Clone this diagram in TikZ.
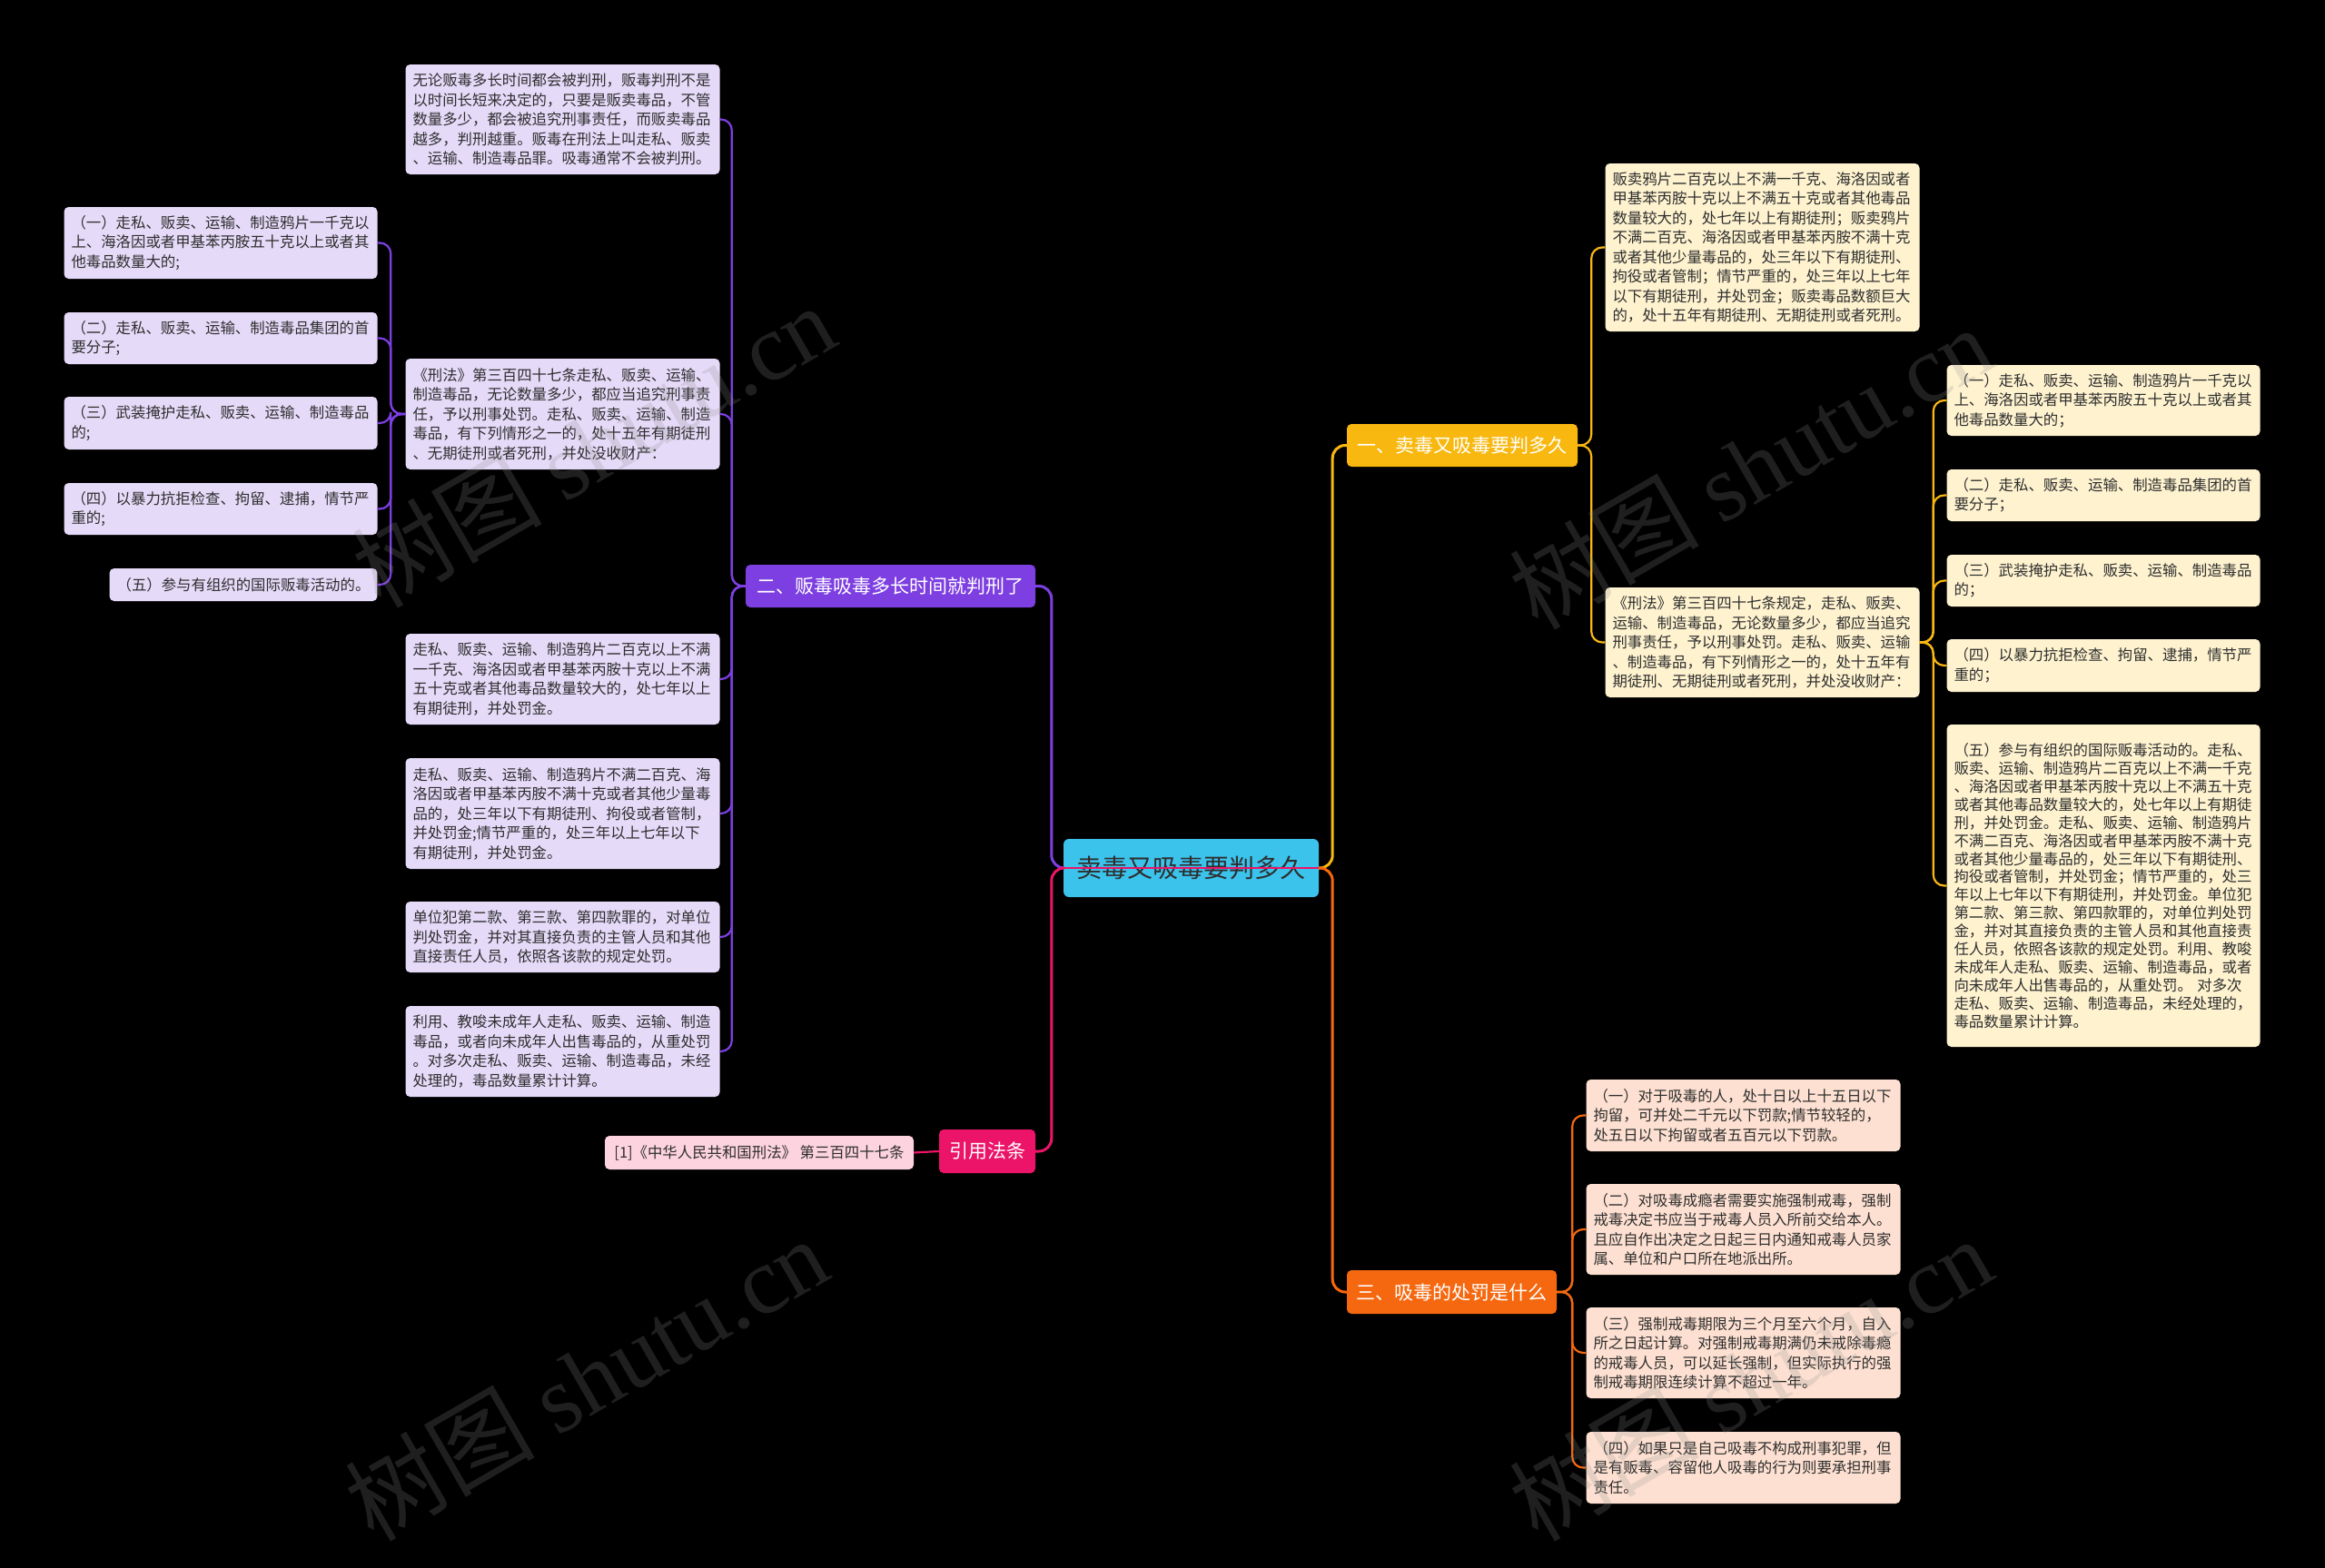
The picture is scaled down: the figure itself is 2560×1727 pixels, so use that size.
\documentclass[tikz,border=0pt]{standalone}
\usepackage{fontspec}
\setmainfont{Noto Sans CJK SC}
\newfontfamily\wmlatin{Liberation Serif}
\definecolor{cA}{HTML}{F8B810}
\definecolor{cAl}{HTML}{FEF2CF}
\definecolor{cB}{HTML}{7D3FE1}
\definecolor{cBl}{HTML}{E5DAF8}
\definecolor{cC}{HTML}{F5680F}
\definecolor{cCl}{HTML}{FDE0D1}
\definecolor{cD}{HTML}{EC1468}
\definecolor{cDl}{HTML}{FCD3DF}
\definecolor{cCenter}{HTML}{3BC3EC}
\definecolor{txt}{HTML}{2E2E2E}
\definecolor{wmgray}{HTML}{909090}
\begin{document}
\begin{tikzpicture}[x=1pt,y=-1pt,
  leaf/.style={rectangle, rounded corners=5pt, inner xsep=8pt, inner ysep=0pt,
    align=left, text=txt, font=\fontsize{16.4}{21.5}\selectfont},
  leafA/.style={leaf, fill=cAl},
  leafB/.style={leaf, fill=cBl},
  leafC/.style={leaf, fill=cCl},
  leafD/.style={leaf, fill=cDl, align=center},
  branch/.style={rectangle, rounded corners=5pt, inner sep=0pt, text=white,
    font=\fontsize{21}{25}\selectfont},
  conn/.style={line width=2.2pt, rounded corners=12pt},
  mainconn/.style={line width=3pt, rounded corners=14pt},
  wm/.style={text=wmgray, opacity=0.22, font=\fontsize{105}{110}\selectfont, rotate=30}
]
\useasboundingbox (0,0) rectangle (2560,1727);
\fill[black] (0,0) rectangle (2560,1727);

% ---------- center and branches ----------
\node[rectangle, rounded corners=6pt, fill=cCenter, text=txt, minimum width=281, minimum height=64,
  font=\fontsize{28}{32}\selectfont] (center) at (1311.5,956) {卖毒又吸毒要判多久};
\node[branch, fill=cA, minimum width=254, minimum height=47] (b1) at (1610,490.5) {一、卖毒又吸毒要判多久};
\node[branch, fill=cC, minimum width=231, minimum height=48] (b3) at (1598.5,1423) {三、吸毒的处罚是什么};
\node[branch, fill=cB, minimum width=319, minimum height=47] (b2) at (980.5,645.5) {二、贩毒吸毒多长时间就判刑了};
\node[branch, fill=cD, minimum width=106, minimum height=48] (b4) at (1087,1268) {引用法条};
\node[leafD, minimum width=340, minimum height=37] (cite) at (836,1269.5) {[1]《中华人民共和国刑法》 第三百四十七条};

% ---------- branch 二 leaves ----------
\node[leafB, minimum width=345, minimum height=121, text width=330pt] (L1) at (619.5,131.5) {无论贩毒多长时间都会被判刑，贩毒判刑不是\\
以时间长短来决定的，只要是贩卖毒品，不管\\
数量多少，都会被追究刑事责任，而贩卖毒品\\
越多，判刑越重。贩毒在刑法上叫走私、贩卖\\
、运输、制造毒品罪。吸毒通常不会被判刑。};
\node[leafB, minimum width=345, minimum height=122, text width=330pt] (L2) at (619.5,456) {《刑法》第三百四十七条走私、贩卖、运输、\\
制造毒品，无论数量多少，都应当追究刑事责\\
任，予以刑事处罚。走私、贩卖、运输、制造\\
毒品，有下列情形之一的，处十五年有期徒刑\\
、无期徒刑或者死刑，并处没收财产：};
\node[leafB, minimum width=345, minimum height=100, text width=330pt] (L3) at (619.5,748) {走私、贩卖、运输、制造鸦片二百克以上不满\\
一千克、海洛因或者甲基苯丙胺十克以上不满\\
五十克或者其他毒品数量较大的，处七年以上\\
有期徒刑，并处罚金。};
\node[leafB, minimum width=345, minimum height=122, text width=330pt] (L4) at (619.5,896) {走私、贩卖、运输、制造鸦片不满二百克、海\\
洛因或者甲基苯丙胺不满十克或者其他少量毒\\
品的，处三年以下有期徒刑、拘役或者管制，\\
并处罚金;情节严重的，处三年以上七年以下\\
有期徒刑，并处罚金。};
\node[leafB, minimum width=345, minimum height=78, text width=330pt] (L5) at (619.5,1032) {单位犯第二款、第三款、第四款罪的，对单位\\
判处罚金，并对其直接负责的主管人员和其他\\
直接责任人员，依照各该款的规定处罚。};
\node[leafB, minimum width=345, minimum height=100, text width=330pt] (L6) at (619.5,1158) {利用、教唆未成年人走私、贩卖、运输、制造\\
毒品，或者向未成年人出售毒品的，从重处罚\\
。对多次走私、贩卖、运输、制造毒品，未经\\
处理的，毒品数量累计计算。};

\node[leafB, minimum width=344, minimum height=79, text width=329pt] (S1) at (243,267.5) {（一）走私、贩卖、运输、制造鸦片一千克以\\
上、海洛因或者甲基苯丙胺五十克以上或者其\\
他毒品数量大的;};
\node[leafB, minimum width=344, minimum height=57, text width=329pt] (S2) at (243,372.5) {（二）走私、贩卖、运输、制造毒品集团的首\\
要分子;};
\node[leafB, minimum width=344, minimum height=58, text width=329pt] (S3) at (243,466) {（三）武装掩护走私、贩卖、运输、制造毒品\\
的;};
\node[leafB, minimum width=344, minimum height=57, text width=329pt] (S4) at (243,560.5) {（四）以暴力抗拒检查、拘留、逮捕，情节严\\
重的;};
\node[leafB, minimum width=294, minimum height=36, align=center] (S5) at (268,644) {（五）参与有组织的国际贩毒活动的。};

% ---------- branch 一 leaves ----------
\node[leafA, minimum width=345, minimum height=185, text width=330pt] (R1) at (1940.5,272.5) {贩卖鸦片二百克以上不满一千克、海洛因或者\\
甲基苯丙胺十克以上不满五十克或者其他毒品\\
数量较大的，处七年以上有期徒刑；贩卖鸦片\\
不满二百克、海洛因或者甲基苯丙胺不满十克\\
或者其他少量毒品的，处三年以下有期徒刑、\\
拘役或者管制；情节严重的，处三年以上七年\\
以下有期徒刑，并处罚金；贩卖毒品数额巨大\\
的，处十五年有期徒刑、无期徒刑或者死刑。};
\node[leafA, minimum width=345, minimum height=121, text width=330pt] (R2) at (1940.5,707.5) {《刑法》第三百四十七条规定，走私、贩卖、\\
运输、制造毒品，无论数量多少，都应当追究\\
刑事责任，予以刑事处罚。走私、贩卖、运输\\
、制造毒品，有下列情形之一的，处十五年有\\
期徒刑、无期徒刑或者死刑，并处没收财产：};

\node[leafA, minimum width=344, minimum height=78, text width=329pt] (RS1) at (2316,441) {（一）走私、贩卖、运输、制造鸦片一千克以\\
上、海洛因或者甲基苯丙胺五十克以上或者其\\
他毒品数量大的；};
\node[leafA, minimum width=344, minimum height=57, text width=329pt] (RS2) at (2316,545.5) {（二）走私、贩卖、运输、制造毒品集团的首\\
要分子；};
\node[leafA, minimum width=344, minimum height=57, text width=329pt] (RS3) at (2316,639.5) {（三）武装掩护走私、贩卖、运输、制造毒品\\
的；};
\node[leafA, minimum width=344, minimum height=58, text width=329pt] (RS4) at (2316,733) {（四）以暴力抗拒检查、拘留、逮捕，情节严\\
重的；};
\node[leafA, minimum width=344, minimum height=355, text width=329pt,
  font=\fontsize{16.4}{19.9}\selectfont] (RS5) at (2316,975.5) {（五）参与有组织的国际贩毒活动的。走私、\\
贩卖、运输、制造鸦片二百克以上不满一千克\\
、海洛因或者甲基苯丙胺十克以上不满五十克\\
或者其他毒品数量较大的，处七年以上有期徒\\
刑，并处罚金。走私、贩卖、运输、制造鸦片\\
不满二百克、海洛因或者甲基苯丙胺不满十克\\
或者其他少量毒品的，处三年以下有期徒刑、\\
拘役或者管制，并处罚金；情节严重的，处三\\
年以上七年以下有期徒刑，并处罚金。单位犯\\
第二款、第三款、第四款罪的，对单位判处罚\\
金，并对其直接负责的主管人员和其他直接责\\
任人员，依照各该款的规定处罚。利用、教唆\\
未成年人走私、贩卖、运输、制造毒品，或者\\
向未成年人出售毒品的，从重处罚。 对多次\\
走私、贩卖、运输、制造毒品，未经处理的，\\
毒品数量累计计算。};

% ---------- branch 三 leaves ----------
\node[leafC, minimum width=345, minimum height=79, text width=330pt] (T1) at (1919.5,1228.5) {（一）对于吸毒的人，处十日以上十五日以下\\
拘留，可并处二千元以下罚款;情节较轻的，\\
处五日以下拘留或者五百元以下罚款。};
\node[leafC, minimum width=345, minimum height=100, text width=330pt] (T2) at (1919.5,1354) {（二）对吸毒成瘾者需要实施强制戒毒，强制\\
戒毒决定书应当于戒毒人员入所前交给本人。\\
且应自作出决定之日起三日内通知戒毒人员家\\
属、单位和户口所在地派出所。};
\node[leafC, minimum width=345, minimum height=100, text width=330pt] (T3) at (1919.5,1490) {（三）强制戒毒期限为三个月至六个月，自入\\
所之日起计算。对强制戒毒期满仍未戒除毒瘾\\
的戒毒人员，可以延长强制，但实际执行的强\\
制戒毒期限连续计算不超过一年。};
\node[leafC, minimum width=345, minimum height=79, text width=330pt] (T4) at (1919.5,1616.5) {（四）如果只是自己吸毒不构成刑事犯罪，但\\
是有贩毒、容留他人吸毒的行为则要承担刑事\\
责任。};

% ---------- connectors ----------
\draw[mainconn, cA] (center.east) -- ++(15,0) |- (b1.west);
\draw[mainconn, cC] (center.east) -- ++(15,0) |- (b3.west);
\draw[mainconn, cB] (center.west) -- ++(-13,0) |- (b2.east);
\draw[mainconn, cD] (center.west) -- ++(-13,0) |- (b4.east);
\draw[line width=2pt, cD] (center.west) -- (center.east);

\foreach \n in {R1,R2} \draw[conn, cA] (b1.east) -- ++(15,0) |- (\n.west);
\foreach \n in {RS1,RS2,RS3,RS4,RS5} \draw[conn, cA] (R2.east) -- ++(15,0) |- (\n.west);
\foreach \n in {T1,T2,T3,T4} \draw[conn, cC] (b3.east) -- ++(17,0) |- (\n.west);
\foreach \n in {L1,L2,L3,L4,L5,L6} \draw[conn, cB] (b2.west) -- ++(-15,0) |- (\n.east);
\foreach \n in {S1,S2,S3,S4,S5} \draw[conn, cB] (L2.west) -- ++(-16,0) |- (\n.east);
\draw[conn, cD] (b4.west) -- (cite.east);

% ---------- watermarks ----------
\node[wm] (wm1) at (653,490) {树图 {\wmlatin shutu.cn}};
\node[wm] (wm2) at (1927,514) {树图 {\wmlatin shutu.cn}};
\node[wm] (wm3) at (645,1518) {树图 {\wmlatin shutu.cn}};
\node[wm] (wm4) at (1927,1518) {树图 {\wmlatin shutu.cn}};
\end{tikzpicture}
\end{document}
